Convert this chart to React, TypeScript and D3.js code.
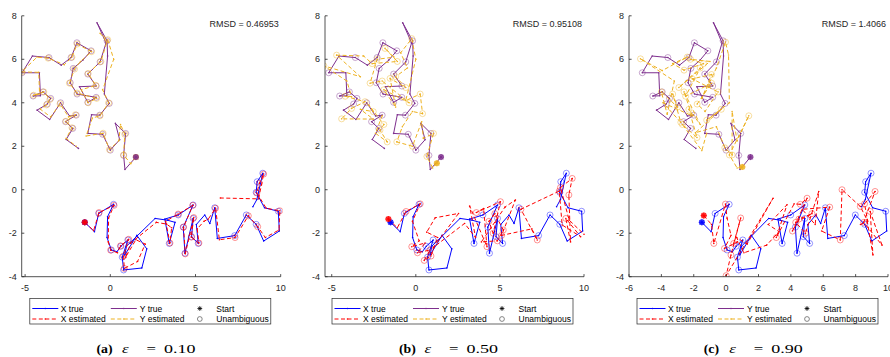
import React from 'react';
import * as d3 from 'd3';

type Pt = [number, number];

// true trajectories (same in every panel)
const xTrue: Pt[] = [
  [-1.5, -1.5], [-0.93, -1.93], [-0.68, -1.09], [0.19, -0.67], [-0.16, -1.24], [-0.19, -2.2],
  [0.06, -2.77], [0.39, -2.85], [0.62, -2.6], [1.03, -2.31], [0.7, -3.1], [0.78, -3.69],
  [1.85, -3.6], [2.14, -2.72], [1.56, -2.1], [0.85, -3.0], [0.95, -2.6], [2.63, -1.32],
  [3.35, -1.4], [3.8, -1.5], [3.46, -2.47], [3.2, -1.35], [3.99, -1.16], [4.86, -0.7],
  [4.28, -1.72], [4.38, -2.92], [4.86, -1.32], [4.77, -2.16], [5.16, -2.47], [5.05, -1.6],
  [5.54, -1.16], [5.84, -1.55], [6.13, -0.83], [6.28, -2.24], [7.3, -2.11], [7.98, -1.16],
  [8.56, -1.59], [9.0, -2.36], [9.92, -1.9], [9.86, -0.99], [9.05, -0.83], [8.56, -0.12],
  [8.62, 0.37], [8.95, 0.76], [8.6, -0.45], [8.37, -0.78],
];

const yTrue: Pt[] = [
  [1.5, 1.5], [0.86, 0.93], [0.78, 1.58], [0.9, 2.59], [0.3, 3.05], [0.55, 2.3], [0.0, 1.82],
  [-0.45, 2.55], [-1.32, 2.59], [-1.1, 3.45], [-0.62, 3.43], [-0.06, 3.97], [-0.35, 4.4],
  [-0.16, 6.15], [-0.19, 6.85], [-0.78, 7.68], [-0.25, 6.75], [-0.6, 5.88], [-1.32, 5.32],
  [-0.83, 4.77], [-1.81, 4.74], [-1.32, 4.02], [-0.83, 4.25], [-1.95, 4.4], [-2.35, 4.92],
  [-2.18, 5.58], [-1.61, 5.96], [-1.13, 6.39], [-1.96, 6.76], [-2.3, 6.08], [-2.88, 5.73],
  [-3.6, 6.08], [-4.57, 6.15], [-5.18, 5.38], [-4.16, 5.38], [-4.1, 4.32], [-4.53, 4.31],
  [-3.95, 4.5], [-3.5, 4.2], [-3.7, 3.94], [-4.3, 3.66], [-3.56, 3.23], [-2.92, 4.0],
  [-2.39, 3.39], [-2.0, 3.43], [-2.63, 3.13], [-2.2, 2.82], [-2.59, 2.31], [-1.87, 1.9],
];

// estimated trajectories, one per panel
const xEstA: Pt[] = [
  [-1.5, -1.5], [-0.98, -1.88], [-0.66, -1.05], [0.22, -0.72], [-0.1, -1.3], [-0.12, -2.4],
  [0.02, -2.78], [0.42, -2.9], [0.6, -2.58], [1.08, -2.28], [0.78, -3.05], [0.82, -3.62],
  [1.6, -3.3], [2.05, -2.5], [1.5, -2.3], [0.9, -3.1], [1.2, -2.45], [2.7, -1.5],
  [3.3, -1.58], [3.6, -1.75], [3.5, -2.45], [3.25, -1.45], [3.98, -1.12], [4.84, -0.72],
  [4.3, -1.72], [4.4, -2.95], [4.9, -1.28], [4.75, -2.18], [5.2, -2.45], [5.1, -1.8],
  [5.5, -1.45], [5.75, -1.35], [6.18, -0.85], [6.4, -2.3], [7.32, -2.2], [8.1, -1.2],
  [8.65, -1.7], [9.1, -2.2], [9.9, -1.85], [9.95, -0.97], [9.15, -0.85], [8.6, -0.15],
  [8.75, 0.3], [9.0, 0.72], [8.7, -0.42], [6.46, -0.38],
];
const xEstB: Pt[] = [
  [-1.63, -1.35], [-1.1, -1.75], [-0.58, -1.0], [0.26, -0.65], [-0.2, -1.45], [0.2, -2.35],
  [-0.24, -2.62], [0.55, -2.45], [0.1, -2.9], [0.85, -2.77], [0.5, -3.25], [0.9, -3.05],
  [1.3, -2.2], [0.65, -1.95], [1.15, -1.29], [2.54, -1.09], [1.05, -2.65], [2.9, -1.55],
  [3.55, -2.2], [3.2, -0.75], [4.23, -2.62], [4.03, -0.86], [3.6, -1.05], [5.03, -0.55],
  [4.6, -2.0], [4.35, -1.45], [4.7, -1.1], [5.2, -1.85], [4.85, -2.35], [3.9, -2.4],
  [5.3, -0.8], [5.92, -0.47], [5.1, -2.1], [6.9, -1.8], [7.22, -2.31], [6.25, -0.9],
  [8.53, -0.06], [8.7, -1.62], [9.8, -2.16], [8.92, -1.32], [9.2, -2.4], [9.1, -0.24],
  [9.3, 0.52], [8.6, 0.1], [9.12, -1.4], [10.0, -2.05],
];
const xEstC: Pt[] = [
  [-1.38, -1.19], [-0.9, -1.6], [-0.76, -2.47], [-0.04, -0.66], [0.06, -1.31], [0.3, -2.1],
  [-0.1, -2.7], [0.7, -2.4], [0.47, -2.47], [0.9, -1.3], [0.3, -3.0], [0.0, -3.95],
  [2.9, -0.39], [1.3, -2.5], [0.65, -2.2], [1.1, -2.9], [2.5, -2.55], [3.27, -1.93],
  [2.6, -1.6], [3.76, -0.69], [3.1, -2.2], [4.2, -0.65], [4.58, -0.67], [5.0, -0.39],
  [4.1, -1.9], [4.5, -1.35], [5.3, -1.1], [4.3, -1.5], [4.9, -2.0], [5.72, -0.08],
  [5.5, -1.6], [4.7, -0.9], [6.4, -0.8], [5.9, -1.9], [7.05, -2.31], [7.16, 0.0],
  [8.29, -0.77], [8.7, -1.38], [9.07, -3.0], [8.9, -1.0], [9.63, -2.55], [8.5, -1.5],
  [9.2, -0.08], [8.55, -0.65], [8.75, -1.45], [8.3, -1.6],
];

const yEstA: Pt[] = [
  [1.5, 1.5], [1.2, 1.2], [0.78, 1.6], [0.85, 2.55], [0.6, 3.0], [0.5, 2.25], [-0.05, 1.85],
  [-0.42, 2.6], [-1.42, 2.47], [-1.05, 3.3], [-0.6, 3.4], [-0.1, 4.0], [-0.45, 4.6],
  [0.2, 6.0], [-0.15, 6.9], [-0.6, 7.2], [-0.2, 6.8], [-0.55, 5.9], [-1.3, 5.35],
  [-0.85, 4.8], [-1.7, 4.6], [-1.3, 4.0], [-0.8, 4.2], [-1.95, 4.45], [-2.4, 4.9],
  [-2.1, 5.55], [-1.75, 5.9], [-1.1, 6.35], [-1.95, 6.7], [-2.25, 6.1], [-2.7, 5.75],
  [-3.65, 6.05], [-4.3, 6.1], [-5.2, 5.42], [-4.2, 5.4], [-4.15, 4.4], [-4.5, 4.35],
  [-3.9, 4.5], [-3.55, 4.15], [-3.75, 3.9], [-4.1, 3.7], [-3.5, 3.35], [-2.95, 3.95],
  [-2.45, 3.35], [-2.05, 3.45], [-2.6, 3.15], [-2.25, 2.85], [-2.59, 2.36], [-2.0, 2.0],
];
const yEstB: Pt[] = [
  [1.25, 1.22], [1.0, 1.0], [0.66, 1.53], [1.05, 2.59], [0.45, 2.36], [0.35, 3.13], [-0.2, 2.0],
  [-1.13, 2.2], [-0.8, 2.9], [-0.2, 3.6], [0.4, 3.5], [0.26, 4.4], [-0.6, 4.1],
  [0.0, 6.0], [-0.24, 6.95], [-0.9, 6.3], [-0.5, 5.6], [-1.2, 5.2], [-0.6, 4.7],
  [-1.53, 5.12], [-1.2, 3.8], [-1.9, 4.6], [-0.4, 4.0], [-2.0, 5.0], [-2.72, 4.9],
  [-2.3, 6.0], [-1.3, 6.1], [-1.83, 6.5], [-1.1, 5.9], [-2.6, 5.8], [-3.1, 6.15],
  [-4.71, 6.19], [-3.3, 5.2], [-5.47, 5.7], [-4.1, 5.0], [-3.82, 4.28], [-4.2, 4.3],
  [-3.02, 4.05], [-3.82, 3.74], [-4.41, 3.26], [-2.53, 3.25], [-3.3, 3.7], [-2.53, 3.59],
  [-2.8, 3.9], [-1.9, 3.0], [-2.13, 2.74], [-1.7, 2.2], [-2.4, 2.6], [-2.0, 3.4],
];
const yEstC: Pt[] = [
  [1.0, 1.05], [0.68, 1.0], [0.2, 1.6], [1.4, 3.4], [0.68, 2.24], [0.37, 3.6], [0.37, 1.6],
  [-0.08, 1.93], [-0.6, 2.9], [-1.9, 2.62], [-0.3, 3.7], [-1.2, 3.2], [0.2, 4.0],
  [0.15, 6.2], [-0.04, 6.79], [-0.6, 5.6], [-1.5, 4.2], [-0.9, 5.3], [-2.1, 5.1],
  [-0.5, 4.5], [-1.3, 3.6], [-1.79, 3.94], [-0.9, 4.9], [-2.5, 4.3], [-1.6, 5.6],
  [-2.92, 4.7], [-1.0, 5.9], [-2.2, 6.0], [-1.4, 5.8], [-2.6, 5.5], [-3.3, 5.8],
  [-2.4, 6.1], [-3.95, 5.48], [-5.29, 6.02], [-3.2, 5.0], [-3.64, 3.47], [-4.0, 4.5],
  [-3.0, 3.8], [-3.3, 4.4], [-2.8, 3.1], [-3.9, 4.0], [-2.1, 3.4], [-2.6, 4.5],
  [-1.6, 3.0], [-2.3, 3.7], [-1.8, 2.4], [-2.7, 3.0], [-1.5, 1.8], [-1.2, 2.6],
];

// indices of unambiguous points
const xUnambiguous = [2, 3, 6, 8, 9, 10, 11, 20, 22, 23, 24, 25, 26, 27, 28, 32, 34, 35, 36, 39, 41, 42, 43];
const yUnambiguous = [2, 3, 6, 7, 10, 11, 14, 17, 18, 19, 21, 22, 23, 24, 25, 27, 28, 29, 31, 33, 36, 37, 38, 39, 42, 44, 45, 46];

const xEstimates = [xEstA, xEstB, xEstC];
const yEstimates = [yEstA, yEstB, yEstC];
const xDomains: Pt[] = [[-5.2, 10], [-5.4, 10], [-6, 10]];
const xTickSets = [[-5, 0, 5, 10], [-5, 0, 5, 10], [-6, -4, -2, 0, 2, 4, 6, 8, 10]];
const yTicks = [-4, -2, 0, 2, 4, 6, 8];
const rmsdLabels = ['RMSD = 0.46953', 'RMSD = 0.95108', 'RMSD = 1.4066'];
const captionLetters = ['(a)', '(b)', '(c)'];
const epsilons = ['0.10', '0.50', '0.90'];

const BLUE = '#0000ff';
const RED = '#ff0000';
const PURPLE = '#7e2f8e';
const ORANGE = '#edb120';
const AXIS = '#262626';
const SANS = '"Liberation Sans", Arial, Helvetica, sans-serif';
const SERIF = '"Liberation Serif", "DejaVu Serif", serif';

const plotLefts = [21.7, 325, 629];
const plotW = 259;
const plotTop = 15.8;
const plotBottom = 276.7;
const legendLefts = [29.8, 332, 637];
const captionLefts = [96.5, 399, 703.7];

function asterisk(cx: number, cy: number, r: number, color: string, key: string) {
  const a = r * 0.707;
  return (
    <g key={key} stroke={color} strokeWidth={0.8}>
      <line x1={cx - r} y1={cy} x2={cx + r} y2={cy} />
      <line x1={cx} y1={cy - r} x2={cx} y2={cy + r} />
      <line x1={cx - a} y1={cy - a} x2={cx + a} y2={cy + a} />
      <line x1={cx - a} y1={cy + a} x2={cx + a} y2={cy - a} />
    </g>
  );
}

function Track({ pts, color, dashed, circles, sx, sy, id }: any) {
  const line = d3.line<Pt>().x(d => sx(d[0])).y(d => sy(d[1]));
  return (
    <g>
      <path d={line(pts) || ''} fill="none" stroke={color} strokeWidth={1}
        strokeDasharray={dashed ? '4 2.5' : undefined} />
      {pts.map((d: Pt, k: number) => (
        <circle key={`${id}d${k}`} cx={sx(d[0])} cy={sy(d[1])} r={0.8} fill={color} />
      ))}
      {circles.map((k: number) => (
        <circle key={`${id}c${k}`} cx={sx(pts[k][0])} cy={sy(pts[k][1])} r={3}
          fill="none" stroke={color} strokeWidth={0.7} opacity={0.6} />
      ))}
    </g>
  );
}

// stretched caption text, as in the typeset figure
function CapText({ x, sc, children, ...rest }: any) {
  return (
    <text transform={`translate(${x},353) scale(${sc},1)`} {...rest}>{children}</text>
  );
}

function Panel({ i }: { i: number }) {
  const left = plotLefts[i];
  const right = left + plotW;
  const sx = d3.scaleLinear().domain(xDomains[i]).range([left, right]);
  const sy = d3.scaleLinear().domain([-4, 8]).range([plotBottom, plotTop]);
  const xe = xEstimates[i];
  const ye = yEstimates[i];
  const lx = legendLefts[i];
  const r1 = 308.5;
  const r2 = 319;
  const c0 = captionLefts[i];

  const startMark = (p: Pt, color: string, key: string) => (
    <g key={key}>
      <circle cx={sx(p[0])} cy={sy(p[1])} r={3} fill={color} opacity={0.75} />
      {asterisk(sx(p[0]), sy(p[1]), 3, color, key + 'a')}
    </g>
  );

  const legendLine = (x: number, y: number, color: string, dashed: boolean) => (
    <g>
      <line x1={x} y1={y} x2={x + 26} y2={y} stroke={color} strokeWidth={1}
        strokeDasharray={dashed ? '4 2.5' : undefined} />
      <circle cx={x + 13} cy={y} r={0.8} fill={color} />
    </g>
  );

  return (
    <g>
      <clipPath id={`clip${i}`}>
        <rect x={left} y={plotTop - 2} width={plotW + 2} height={plotBottom - plotTop + 2} />
      </clipPath>
      <g clipPath={`url(#clip${i})`}>
        <Track pts={xTrue} color={BLUE} dashed={false} circles={xUnambiguous} sx={sx} sy={sy} id={`xt${i}`} />
        <Track pts={xe} color={RED} dashed={true} circles={xUnambiguous} sx={sx} sy={sy} id={`xe${i}`} />
        <Track pts={yTrue} color={PURPLE} dashed={false} circles={yUnambiguous} sx={sx} sy={sy} id={`yt${i}`} />
        <Track pts={ye} color={ORANGE} dashed={true} circles={yUnambiguous} sx={sx} sy={sy} id={`ye${i}`} />
        {startMark(xTrue[0], BLUE, `sxt${i}`)}
        {startMark(xe[0], RED, `sxe${i}`)}
        {startMark(ye[0], ORANGE, `sye${i}`)}
        {startMark(yTrue[0], PURPLE, `syt${i}`)}
      </g>

      {/* axes */}
      <line x1={left} y1={plotBottom} x2={right} y2={plotBottom} stroke={AXIS} strokeWidth={0.8} />
      <line x1={left} y1={plotTop} x2={left} y2={plotBottom} stroke={AXIS} strokeWidth={0.8} />
      {xTickSets[i].map(t => (
        <g key={`xt${t}`}>
          <line x1={sx(t)} x2={sx(t)} y1={plotBottom} y2={plotBottom - 2.6} stroke={AXIS} strokeWidth={0.8} />
          <text x={sx(t)} y={290.5} textAnchor="middle" fontSize={9} fontFamily={SANS} fill={AXIS}>{t}</text>
        </g>
      ))}
      {yTicks.map(t => (
        <g key={`yt${t}`}>
          <line x1={left} x2={left + 2.6} y1={sy(t)} y2={sy(t)} stroke={AXIS} strokeWidth={0.8} />
          <text x={left - 5} y={sy(t) + 3.2} textAnchor="end" fontSize={9} fontFamily={SANS} fill={AXIS}>{t}</text>
        </g>
      ))}
      <text x={right - 2} y={27} textAnchor="end" fontSize={9} fontFamily={SANS} fill={AXIS}>{rmsdLabels[i]}</text>

      {/* legend */}
      <rect x={lx} y={298.5} width={241} height={25.5} fill="#fff" stroke={AXIS} strokeWidth={0.7} />
      {legendLine(lx + 2.5, r1, BLUE, false)}
      {legendLine(lx + 2.5, r2, RED, true)}
      {legendLine(lx + 81, r1, PURPLE, false)}
      {legendLine(lx + 81, r2, ORANGE, true)}
      {asterisk(lx + 170, r1, 2.4, '#000', `la${i}`)}
      <circle cx={lx + 170} cy={r2} r={2.4} fill="none" stroke="#555" strokeWidth={0.7} />
      <g fontSize={8.5} fontFamily={SANS} fill="#000">
        <text x={lx + 31} y={r1 + 3}>X true</text>
        <text x={lx + 31} y={r2 + 3}>X estimated</text>
        <text x={lx + 110} y={r1 + 3}>Y true</text>
        <text x={lx + 110} y={r2 + 3}>Y estimated</text>
        <text x={lx + 186.5} y={r1 + 3}>Start</text>
        <text x={lx + 186.5} y={r2 + 3}>Unambiguous</text>
      </g>

      {/* caption */}
      <g fontFamily={SERIF} fontSize={12} fill="#000">
        <CapText x={c0} sc={1.15} fontWeight="bold">{captionLetters[i]}</CapText>
        <CapText x={c0 + 25.5} sc={1.4} fontStyle="italic">ε</CapText>
        <CapText x={c0 + 50} sc={1.4}>=</CapText>
        <CapText x={c0 + 67.5} sc={1.5}>{epsilons[i]}</CapText>
      </g>
    </g>
  );
}

export default function App() {
  return (
    <svg width={890} height={357} style={{ position: 'absolute', left: 0, top: 0, background: '#fff' }}>
      {[0, 1, 2].map(i => <Panel key={i} i={i} />)}
    </svg>
  );
}
